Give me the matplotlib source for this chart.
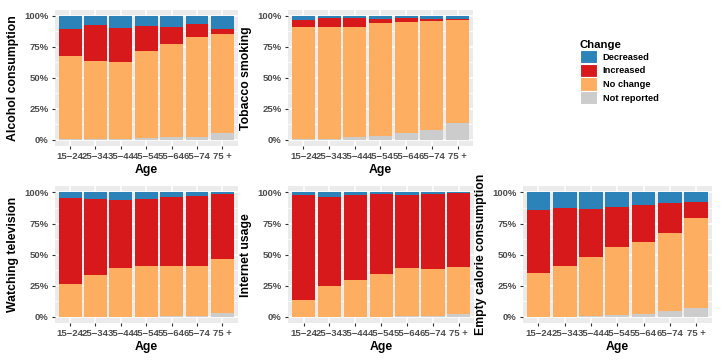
import matplotlib
matplotlib.use("Agg")
import matplotlib.pyplot as plt
from matplotlib.patches import Patch
import numpy as np

plt.rcParams['font.family'] = ['Liberation Sans', 'DejaVu Sans']

ages = ["15\u221224", "25\u221234", "35\u221244", "45\u221254", "55\u221264", "65\u221274", "75 +"]
categories = ["Decreased", "Increased", "No change", "Not reported"]
colors = {"Decreased": "#2b83ba", "Increased": "#d7191c",
          "No change": "#fdae61", "Not reported": "#cccccc"}

# shares in percent per age group
alcohol = {
    "Not reported": [0.5, 0.3, 0.5, 1.0, 2.0, 2.4, 5.6],
    "No change":    [67.5, 63.2, 62.2, 71.0, 75.0, 80.8, 79.4],
    "Increased":    [21.3, 29.0, 27.2, 19.7, 14.2, 10.1, 4.6],
    "Decreased":    [10.7, 7.5, 10.1, 8.3, 8.8, 6.7, 10.4],
}
tobacco = {
    "Not reported": [0.2, 0.5, 1.9, 2.9, 5.0, 8.2, 13.8],
    "No change":    [91.0, 90.7, 89.3, 91.3, 89.7, 87.6, 83.3],
    "Increased":    [5.6, 6.9, 6.9, 3.7, 4.0, 2.1, 0.8],
    "Decreased":    [3.2, 1.9, 1.9, 2.1, 1.3, 2.1, 2.1],
}
television = {
    "Not reported": [0.3, 0.3, 0.3, 0.3, 0.8, 0.8, 2.9],
    "No change":    [26.5, 33.2, 38.6, 40.5, 40.2, 40.0, 43.7],
    "Increased":    [68.9, 61.1, 54.9, 54.1, 55.5, 56.5, 52.1],
    "Decreased":    [4.3, 5.4, 6.2, 5.1, 3.5, 2.7, 1.3],
}
internet = {
    "Not reported": [0.1, 0.2, 0.2, 0.3, 0.8, 0.8, 2.1],
    "No change":    [13.8, 24.5, 29.8, 34.0, 38.1, 37.3, 38.1],
    "Increased":    [84.0, 71.8, 67.6, 64.4, 59.0, 60.3, 59.3],
    "Decreased":    [2.1, 3.5, 2.4, 1.3, 2.1, 1.6, 0.5],
}
calorie = {
    "Not reported": [0.2, 0.3, 0.8, 1.3, 2.4, 4.8, 7.5],
    "No change":    [35.2, 40.7, 47.2, 54.7, 57.6, 63.0, 71.9],
    "Increased":    [50.9, 46.7, 38.9, 32.2, 29.8, 23.4, 13.1],
    "Decreased":    [13.7, 12.3, 13.1, 11.8, 10.2, 8.8, 7.5],
}

panels = [
    ("Alcohol consumption", alcohol, [0.076, 0.596, 0.253, 0.377]),
    ("Tobacco smoking", tobacco, [0.399, 0.596, 0.256, 0.377]),
    ("Watching television", television, [0.076, 0.105, 0.253, 0.379]),
    ("Internet usage", internet, [0.399, 0.105, 0.258, 0.379]),
    ("Empty calorie consumption", calorie, [0.724, 0.105, 0.262, 0.379]),
]

fig = plt.figure(figsize=(7.22, 3.61), dpi=100)

for title, data, rect in panels:
    ax = fig.add_axes(rect)
    ax.set_facecolor("#ebebeb")
    x = np.arange(1, len(ages) + 1)
    bottom = np.zeros(len(ages))
    for cat in ["Not reported", "No change", "Increased", "Decreased"]:
        vals = np.array(data[cat]) / 100.0
        ax.bar(x, vals, width=0.9, bottom=bottom, color=colors[cat], zorder=3, linewidth=0)
        bottom += vals
    ax.set_xlim(0.4, 7.6)
    ax.set_ylim(-0.05, 1.05)
    ax.set_yticks([0, 0.25, 0.5, 0.75, 1.0])
    ax.set_yticklabels(["0%", "25%", "50%", "75%", "100%"])
    ax.set_yticks([0.125, 0.375, 0.625, 0.875], minor=True)
    ax.set_xticks(x)
    ax.set_xticklabels(ages)
    ax.grid(which="major", color="white", linewidth=1.1, zorder=0)
    ax.grid(which="minor", axis="y", color="white", linewidth=0.55, zorder=0)
    ax.set_axisbelow(True)
    for s in ax.spines.values():
        s.set_visible(False)
    ax.tick_params(which="major", length=2.5, width=0.8, color="#333333",
                   labelsize=6.8, labelcolor="#4d4d4d", pad=2)
    ax.tick_params(which="minor", length=0)
    for lab in ax.get_xticklabels() + ax.get_yticklabels():
        lab.set_fontweight("bold")
    ax.set_xlabel("Age", fontsize=8.8, fontweight="bold", labelpad=2)
    ax.set_ylabel(title, fontsize=8.8, fontweight="bold", labelpad=4)

handles = [Patch(facecolor=colors[c], edgecolor="white", linewidth=0.8) for c in categories]
leg = fig.legend(handles, categories, title="Change", loc="upper left",
                 bbox_to_anchor=(0.803, 0.89), frameon=False,
                 prop={"weight": "bold", "size": 6.7},
                 handlelength=1.8, handleheight=1.8, labelspacing=0.05,
                 handletextpad=0.65, borderpad=0, borderaxespad=0)
leg.get_title().set_fontweight("bold")
leg.get_title().set_fontsize(8.2)
leg._legend_box.align = "left"

fig.savefig("out.png", dpi=100)
